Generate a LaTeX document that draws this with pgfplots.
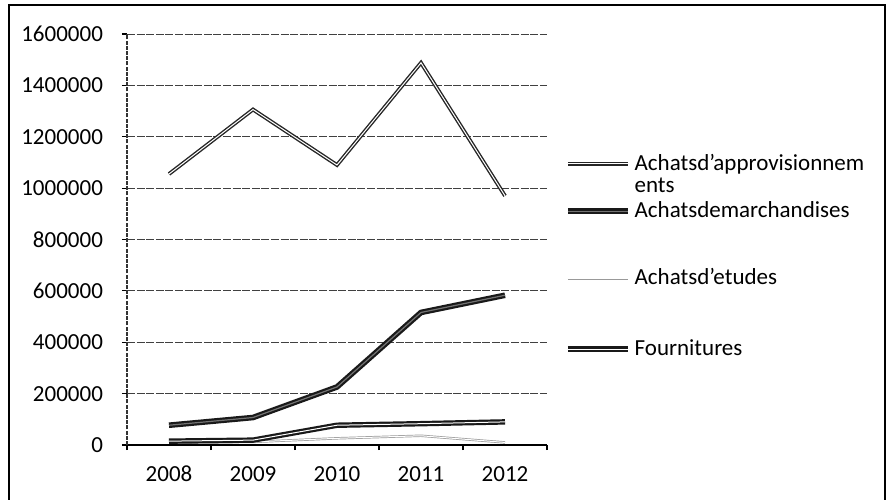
\documentclass[border=0pt]{standalone}
\usepackage{fontspec}
\setmainfont{Carlito}
\usepackage{pgfplots}
\pgfplotsset{compat=1.18}
\pgfplotsset{legimg/.style={legend image code/.code={\path (0pt,0pt) (30pt,0pt); \draw[##1,overlay] (0pt,#1) -- (30pt,#1);}}}
\begin{document}
\fontsize{11.5}{13.8}\selectfont
\begin{tikzpicture}
\useasboundingbox (0,0) rectangle (446pt,249.5pt);
\draw[line width=1pt] (4.5pt,-2pt) -- (4.5pt,246.75pt) -- (442.5pt,246.75pt) -- (442.5pt,-2pt);
\begin{axis}[
  at={(63.5pt,27pt)}, anchor=south west,
  scale only axis, width=210pt, height=205.5pt,
  xmin=0.5, xmax=5.5, ymin=0, ymax=1600000,
  axis x line*=bottom, axis y line*=left,
  x axis line style={-, black, line width=0.6pt},
  y axis line style={-, black!80, line width=0.6pt, dash pattern=on 2pt off 0.6pt},
  tick align=outside, major tick length=2.5pt,
  tick style={black, line width=0.6pt},
  ticklabel style={font=\fontsize{11.5}{13.8}\selectfont},
  xtick={0.5,1.5,2.5,3.5,4.5,5.5},
  xticklabels={,,,,,},
  xticklabel style={yshift=-4pt, anchor=north},
  extra x ticks={1,2,3,4,5},
  extra x tick labels={2008,2009,2010,2011,2012},
  extra x tick style={tick style={draw=none}},
  ytick={0,200000,...,1600000},
  scaled y ticks=false,
  yticklabel style={/pgf/number format/fixed, /pgf/number format/1000 sep={}, /pgf/number format/assume math mode=true, xshift=-5.5pt},
  ymajorgrids,
  grid style={black!75, line width=0.5pt, dash pattern=on 4pt off 0.8pt},
  legend style={at={(1.042,0.719)}, anchor=north west, draw=none, fill=none, inner sep=0pt, row sep=10pt, nodes={inner xsep=2pt}},
  legend cell align=left,
]
\addplot[draw=black!85, double=white, double distance=0.5pt, line width=0.7pt, legimg=0pt] coordinates {(1,1055000) (2,1306000) (3,1090000) (4,1488000) (5,970000)};
\addlegendentry{\rlap{\smash{\raisebox{-11pt}{ents}}}Achatsd'approvisionnem}
\addplot[draw=black!90, double=black!55, double distance=0.6pt, line width=1.1pt, legimg=0pt] coordinates {(1,77000) (2,107000) (3,226000) (4,516000) (5,583000)};
\addlegendentry{Achatsdemarchandises}
\addplot[draw=black!40, double=white, double distance=0.5pt, line width=0.35pt, legimg=-10pt] coordinates {(1,10000) (2,12000) (3,26000) (4,36000) (5,10000)};
\addlegendentry{\raisebox{-10pt}[8pt][0pt]{Achatsd'etudes}}
\addplot[draw=black!90, double=white, double distance=0.5pt, line width=1.1pt, legimg=-21.5pt] coordinates {(1,15000) (2,19000) (3,77000) (4,83000) (5,90000)};
\addlegendentry{\raisebox{-21.5pt}[8pt][0pt]{Fournitures}}
\end{axis}
\end{tikzpicture}
\end{document}
